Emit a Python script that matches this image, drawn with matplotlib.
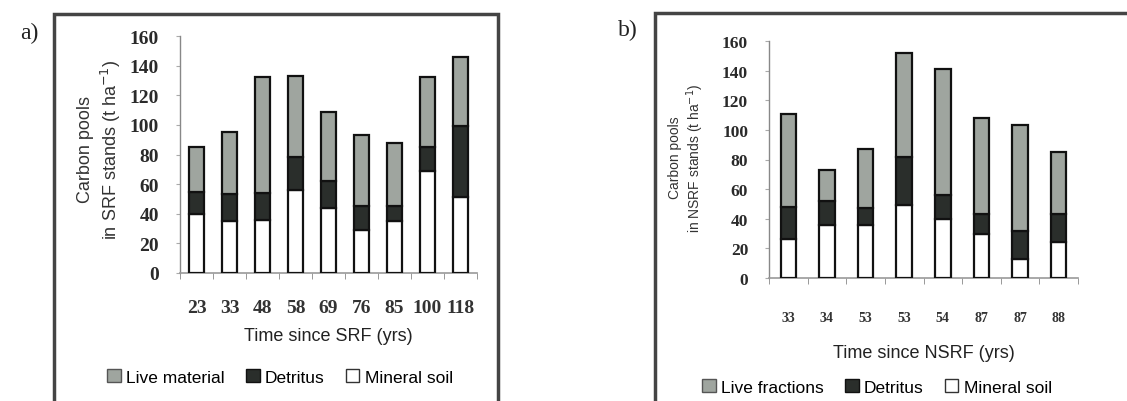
import matplotlib
matplotlib.use("Agg")
import matplotlib.pyplot as plt
import numpy as np
from matplotlib.patches import Rectangle, Patch

# ---- data ----
ages_a = ["23", "33", "48", "58", "69", "76", "85", "100", "118"]
mineral_a = [40, 35, 36, 56, 44, 29, 35, 69, 51]
detritus_a = [15, 18, 18, 22, 18, 16, 10, 16, 48]
live_a = [30, 42, 78, 55, 47, 48, 43, 47, 47]

ages_b = ["33", "34", "53", "53", "54", "87", "87", "88"]
mineral_b = [26, 36, 36, 49, 40, 30, 13, 24]
detritus_b = [22, 16, 11, 33, 16, 13, 19, 19]
live_b = [63, 21, 40, 70, 85, 65, 71, 42]

legend_a = ["Live material", "Detritus", "Mineral soil"]
legend_b = ["Live fractions", "Detritus", "Mineral soil"]

C_LIVE = "#9fa59f"
C_DET = "#2a2e2b"
C_MIN = "#ffffff"
EDGE = "#111111"

W, H = 1127, 402
fig = plt.figure(figsize=(W / 100, H / 100), dpi=100)
fig.patch.set_facecolor("white")

serif = "Liberation Serif"
sans = "Liberation Sans"

def px(x0, y0, x1, y1):
    return [x0 / W, 1 - y1 / H, (x1 - x0) / W, (y1 - y0) / H]

def draw_panel(ax, ages, mineral, detritus, live, width, tick_fs, xtick_fs):
    x = np.arange(len(ages))
    m = np.array(mineral); d = np.array(detritus); l = np.array(live)
    ax.bar(x, m, width, color=C_MIN, edgecolor=EDGE, linewidth=1.6, zorder=3)
    ax.bar(x, d, width, bottom=m, color=C_DET, edgecolor=EDGE, linewidth=1.6, zorder=3)
    ax.bar(x, l, width, bottom=m + d, color=C_LIVE, edgecolor=EDGE, linewidth=1.6, zorder=3)
    ax.set_xlim(-0.5, len(ages) - 0.5)
    ax.set_ylim(0, 160)
    ax.set_yticks(np.arange(0, 161, 20))
    ax.set_yticklabels([str(v) for v in range(0, 161, 20)], fontfamily=serif,
                       fontsize=tick_fs, fontweight="bold", color="#2a2a2a")
    ax.set_xticks(x)
    ax.set_xticklabels(ages, fontfamily=serif, fontsize=xtick_fs, fontweight="bold", color="#333333")
    ax.set_xticks(np.arange(-0.5, len(ages) + 0.5, 1), minor=True)
    ax.tick_params(axis="x", which="minor", length=4, color="#888888", direction="out")
    ax.tick_params(axis="y", length=3, color="#aaaaaa", pad=12)
    for s in ["top", "right"]:
        ax.spines[s].set_visible(False)
    ax.spines["left"].set_color("#888888")
    ax.spines["bottom"].set_color("#999999")
    ax.spines["left"].set_linewidth(1.0)
    ax.spines["bottom"].set_linewidth(1.2)
    ax.set_facecolor("none")

# Panel a
axa = fig.add_axes(px(180, 37, 477, 274))
draw_panel(axa, ages_a, mineral_a, detritus_a, live_a, 0.45, 14, 14)
axa.tick_params(axis="x", which="major", length=0, pad=19)
axa.set_xlabel("Time since SRF (yrs)", fontfamily=sans, fontsize=13, color="#222222", labelpad=8)
fig.text(100 / W, 1 - 150 / H, "Carbon pools\nin SRF stands (t ha$^{-1}$)", rotation=90,
         ha="center", va="center", fontfamily=sans, fontsize=13, color="#333333", linespacing=1.25)
handles_a = [Patch(facecolor=C_LIVE, edgecolor="#555555"), Patch(facecolor=C_DET, edgecolor=EDGE),
             Patch(facecolor=C_MIN, edgecolor="#333333")]
fig.legend(handles_a, legend_a, loc="center", bbox_to_anchor=(280 / W, 1 - 378 / H), ncol=3,
           frameon=False, prop={"family": sans, "size": 12.5}, handlelength=0.8, handleheight=0.8,
           handletextpad=0.3, columnspacing=1.2)

# Panel b
axb = fig.add_axes(px(769, 42, 1078, 279))
draw_panel(axb, ages_b, mineral_b, detritus_b, live_b, 0.4, 12.5, 10)
axb.tick_params(axis="x", which="major", length=0, pad=24)
axb.set_xlabel("Time since NSRF (yrs)", fontfamily=sans, fontsize=13, color="#222222", labelpad=14)
fig.text(687 / W, 1 - 158 / H, "Carbon pools\nin NSRF stands (t ha$^{-1}$)", rotation=90,
         ha="center", va="center", fontfamily=sans, fontsize=10, color="#333333", linespacing=1.2)
handles_b = [Patch(facecolor=C_LIVE, edgecolor="#555555"), Patch(facecolor=C_DET, edgecolor=EDGE),
             Patch(facecolor=C_MIN, edgecolor="#333333")]
fig.legend(handles_b, legend_b, loc="center", bbox_to_anchor=(877 / W, 1 - 388 / H), ncol=3,
           frameon=False, prop={"family": sans, "size": 12.5}, handlelength=0.8, handleheight=0.8,
           handletextpad=0.3, columnspacing=1.2)

# frames
fig.add_artist(Rectangle((54 / W, -0.05), (498 - 54) / W, 1.05 - 15 / H, transform=fig.transFigure,
                         fill=False, edgecolor="#444444", linewidth=2.5))
fig.add_artist(Rectangle((655 / W, -0.05), (1140 - 655) / W, 1.05 - 14 / H, transform=fig.transFigure,
                         fill=False, edgecolor="#444444", linewidth=2.5))

fig.text(20 / W, 1 - 33 / H, "a)", fontfamily=serif, fontsize=17, ha="left", va="center", color="#222222")
fig.text(618 / W, 1 - 30 / H, "b)", fontfamily=serif, fontsize=17, ha="left", va="center", color="#222222")

fig.savefig("out.png", dpi=100, facecolor="white")
